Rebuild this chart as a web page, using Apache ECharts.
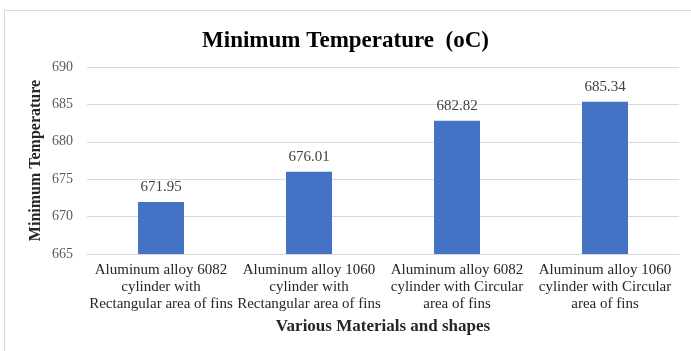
<!DOCTYPE html>
<html>
<head>
<meta charset="utf-8">
<style>
  html, body { margin: 0; padding: 0; background: #fff; }
  #chart { width: 691px; height: 351px; }
</style>
<script src="https://cdn.jsdelivr.net/npm/echarts@6/dist/echarts.min.js"></script>
</head>
<body>
<div id="chart"></div>
<script>
// Materials / fin shapes compared
const categories = [
  'Aluminum alloy 6082\ncylinder with\nRectangular area of fins',
  'Aluminum alloy 1060\ncylinder with\nRectangular area of fins',
  'Aluminum alloy 6082\ncylinder with Circular\narea of fins',
  'Aluminum alloy 1060\ncylinder with Circular\narea of fins'
];
// Minimum temperature (oC) for each case
const minTemps = [671.95, 676.01, 682.82, 685.34];
// Value axis range
const yMin = 665;
const yMax = 690;
const yStep = 5;

const serif = '"Liberation Serif", "Times New Roman", serif';
const chart = echarts.init(document.getElementById('chart'));

chart.setOption({
  backgroundColor: '#fff',
  animation: false,
  graphic: [{
    type: 'rect',
    shape: { x: 4.5, y: 10.5, width: 720, height: 380 },
    style: { fill: 'none', stroke: '#d9d9d9', lineWidth: 1 },
    silent: true
  }],
  title: {
    text: 'Minimum Temperature  (oC)',
    left: 'center',
    top: 25,
    textStyle: { fontFamily: serif, fontSize: 23, fontWeight: 'bold', color: '#000' }
  },
  grid: { left: 87, right: 12, top: 67, bottom: 97 },
  xAxis: {
    type: 'category',
    data: categories,
    name: 'Various Materials and shapes',
    nameLocation: 'middle',
    nameGap: 64,
    nameMoveOverlap: false,
    nameTextStyle: { fontFamily: serif, fontSize: 17, fontWeight: 'bold', color: '#262626' },
    axisLine: { lineStyle: { color: '#d9d9d9', width: 1 } },
    axisTick: { show: false },
    axisLabel: {
      interval: 0,
      margin: 8,
      fontFamily: serif,
      fontSize: 15,
      lineHeight: 17,
      color: '#262626'
    }
  },
  yAxis: {
    type: 'value',
    min: yMin,
    max: yMax,
    interval: yStep,
    name: 'Minimum Temperature',
    nameLocation: 'middle',
    nameGap: 43,
    nameMoveOverlap: false,
    nameTextStyle: { fontFamily: serif, fontSize: 16, fontWeight: 'bold', color: '#262626' },
    axisLine: { show: false },
    axisTick: { show: false },
    axisLabel: { margin: 14, fontFamily: serif, fontSize: 14, color: '#595959' },
    splitLine: { lineStyle: { color: '#d9d9d9', width: 1 } }
  },
  series: [{
    type: 'bar',
    data: minTemps,
    barWidth: 46,
    itemStyle: { color: '#4472C4' },
    label: {
      show: true,
      position: 'top',
      distance: 7,
      fontFamily: serif,
      fontSize: 15,
      color: '#404040',
      formatter: p => p.value.toFixed(2)
    }
  }]
});
</script>
</body>
</html>
